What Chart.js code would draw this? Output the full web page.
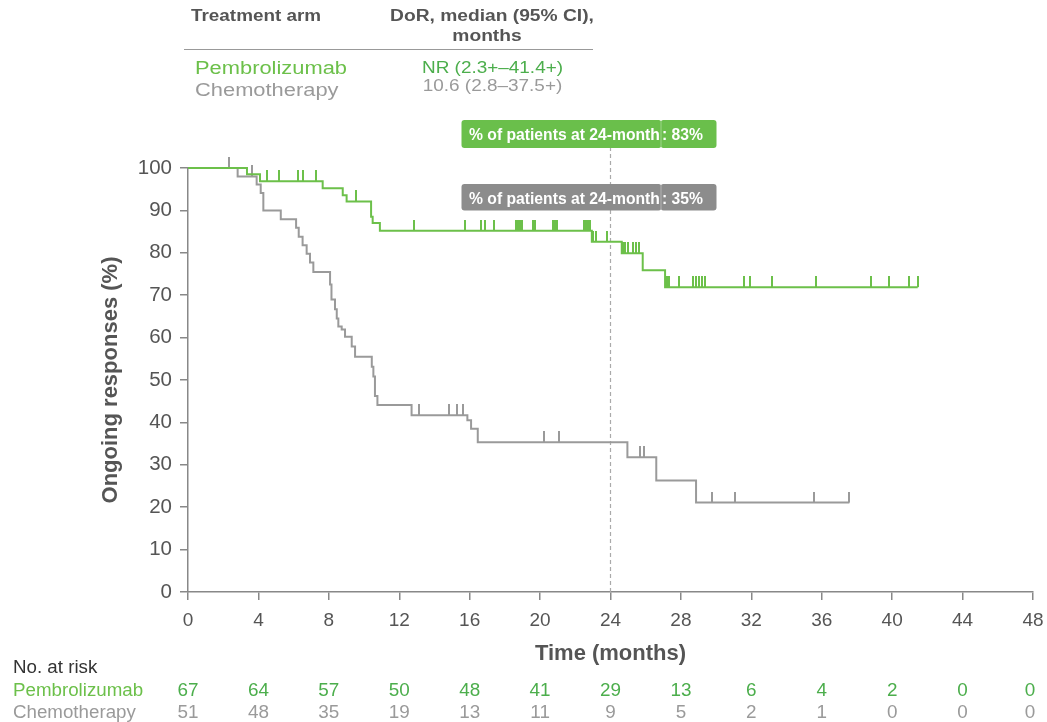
<!DOCTYPE html>
<html>
<head>
<meta charset="utf-8">
<script src="https://cdn.jsdelivr.net/npm/chart.js@4.4.1/dist/chart.umd.min.js"></script>
<style>
  html, body { margin: 0; padding: 0; background: #ffffff; }
  #wrap { width: 1047px; height: 722px; position: relative; }
</style>
</head>
<body>
<div id="wrap"><canvas id="c" width="1047" height="722"></canvas></div>
<script>
// ---------------- data ----------------
const pembroTimes = [0, 3.35, 4.09, 7.65, 8.79, 9.01, 10.40, 10.49, 10.90, 22.94, 24.64, 25.83, 27.10, 41.45];
const pembroSurv  = [100, 98.5, 96.9, 95.2, 93.6, 92.1, 88.5, 87.0, 85.2, 82.6, 79.9, 75.9, 71.9, 71.9];
const pembroCensor = [4.50, 5.19, 6.27, 6.51, 7.27, 9.55, 12.86, 15.74, 16.65, 16.88, 17.39, 18.64, 18.75, 18.86, 18.96,
  19.58, 19.70, 20.72, 20.85, 20.98, 22.50, 22.62, 22.74, 22.84, 23.00, 23.15, 23.80, 24.70, 24.85, 25.00, 25.30, 25.45,
  25.60, 27.20, 27.35, 27.90, 28.70, 28.88, 29.05, 29.20, 29.35, 31.60, 31.90, 33.20, 35.70, 38.80, 39.80, 40.97, 41.45];

const chemoTimes = [0, 2.82, 3.90, 4.13, 4.28, 5.27, 6.14, 6.29, 6.51, 6.74, 6.93, 7.12, 8.07, 8.15, 8.35, 8.45, 8.54,
  8.73, 8.92, 9.30, 9.49, 10.44, 10.53, 10.62, 10.76, 12.70, 15.87, 16.08, 16.46, 24.96, 26.60, 28.86, 37.57];
const chemoSurv  = [100, 98.0, 96.1, 94.1, 90.0, 87.9, 85.9, 83.8, 81.8, 79.8, 77.7, 75.5, 72.5, 69.0, 66.7, 64.5, 62.6,
  61.9, 60.2, 57.9, 55.5, 53.1, 50.8, 46.2, 44.1, 41.7, 40.5, 38.5, 35.3, 31.8, 26.3, 21.1, 21.1];
const chemoCensor = [2.35, 3.65, 13.10, 14.80, 15.27, 15.60, 20.20, 21.05, 25.65, 25.90, 29.75, 31.10, 35.57, 37.57];

const xTicks = [0, 4, 8, 12, 16, 20, 24, 28, 32, 36, 40, 44, 48];
const yTicks = [0, 10, 20, 30, 40, 50, 60, 70, 80, 90, 100];
const riskTimes = [0, 4, 8, 12, 16, 20, 24, 28, 32, 36, 40, 44, 48];
const pembroRisk = [67, 64, 57, 50, 48, 41, 29, 13, 6, 4, 2, 0, 0];
const chemoRisk  = [51, 48, 35, 19, 13, 11, 9, 5, 2, 1, 0, 0, 0];

const landmarkMonth = 24;
const pembroLandmark = 83;
const chemoLandmark = 35;
const landmarkLabel = '% of patients at 24-month';

// ---------------- style ----------------
const GREEN = '#6cc04a';
const GREEN_DARK = '#4cae4c';
const GRAY = '#9a9a9a';
const BOX_GREEN = '#6abf4b';
const BOX_GRAY = '#8c8c8c';
const TXT = '#555555';
const FONT = "'Liberation Sans', Arial, Helvetica, sans-serif";
Chart.defaults.font.family = FONT;

function toPoints(ts, vs) { return ts.map((t, i) => ({ x: t, y: vs[i] })); }
function kmAt(ts, vs, t) {
  let v = vs[0];
  for (let i = 0; i < ts.length; i++) { if (ts[i] <= t) v = vs[i]; }
  return v;
}
function censorPoints(cs, ts, vs) { return cs.map(t => ({ x: t, y: kmAt(ts, vs, t) })); }

function tickImage(color) {
  const c = document.createElement('canvas');
  c.width = 2; c.height = 22;
  const g = c.getContext('2d');
  g.fillStyle = color;
  g.fillRect(0, 0, 2, 11);
  return c;
}

function drawText(ctx, text, x, y, font, color, align, sx) {
  ctx.save();
  ctx.font = font;
  ctx.fillStyle = color;
  ctx.textAlign = align || 'left';
  ctx.textBaseline = 'alphabetic';
  ctx.translate(x, y);
  ctx.scale(sx || 1, 1);
  ctx.fillText(text, 0, 0);
  ctx.restore();
}

function roundRect(ctx, x, y, w, h, r, color) {
  ctx.save();
  ctx.fillStyle = color;
  ctx.beginPath();
  ctx.moveTo(x + r, y);
  ctx.lineTo(x + w - r, y);
  ctx.quadraticCurveTo(x + w, y, x + w, y + r);
  ctx.lineTo(x + w, y + h - r);
  ctx.quadraticCurveTo(x + w, y + h, x + w - r, y + h);
  ctx.lineTo(x + r, y + h);
  ctx.quadraticCurveTo(x, y + h, x, y + h - r);
  ctx.lineTo(x, y + r);
  ctx.quadraticCurveTo(x, y, x + r, y);
  ctx.closePath();
  ctx.fill();
  ctx.restore();
}

const extras = {
  id: 'extras',
  afterDraw(chart) {
    const ctx = chart.ctx;
    const xs = chart.scales.x;
    // header table
    drawText(ctx, 'Treatment arm', 191, 20.5, 'bold 16px ' + FONT, TXT, 'left', 1.18);
    drawText(ctx, 'DoR, median (95% CI),', 492, 20.5, 'bold 16px ' + FONT, TXT, 'center', 1.2);
    drawText(ctx, 'months', 487, 40.5, 'bold 16px ' + FONT, TXT, 'center', 1.2);
    ctx.save();
    ctx.strokeStyle = '#999999';
    ctx.lineWidth = 1;
    ctx.beginPath(); ctx.moveTo(184, 49.5); ctx.lineTo(593, 49.5); ctx.stroke();
    ctx.restore();
    drawText(ctx, 'Pembrolizumab', 195, 74, '17.5px ' + FONT, GREEN, 'left', 1.25);
    drawText(ctx, 'Chemotherapy', 195, 95.5, '17.5px ' + FONT, GRAY, 'left', 1.25);
    drawText(ctx, 'NR (2.3+\u201341.4+)', 492.5, 73.3, '16.2px ' + FONT, GREEN_DARK, 'center', 1.17);
    drawText(ctx, '10.6 (2.8\u201337.5+)', 492.5, 90.7, '16.2px ' + FONT, GRAY, 'center', 1.17);

    // landmark boxes
    const px = xs.getPixelForValue(landmarkMonth);
    const bl = px - 149, bs = px + 50, br = px + 106;
    const boxes = [
      { top: 120, h: 28, color: BOX_GREEN, val: pembroLandmark },
      { top: 184, h: 26.5, color: BOX_GRAY, val: chemoLandmark }
    ];
    boxes.forEach(b => {
      roundRect(ctx, bl, b.top, bs - bl + 1, b.h, 3, b.color);
      roundRect(ctx, bs, b.top, br - bs, b.h, 3, b.color);
      ctx.save();
      ctx.strokeStyle = 'rgba(255,255,255,0.35)';
      ctx.lineWidth = 1;
      ctx.beginPath(); ctx.moveTo(bs + 0.5, b.top); ctx.lineTo(bs + 0.5, b.top + b.h); ctx.stroke();
      ctx.restore();
      drawText(ctx, landmarkLabel, bl + 7.5, b.top + 20, 'bold 15.7px ' + FONT, '#ffffff', 'left', 1);
      drawText(ctx, ': ' + b.val + '%', bs + 1.5, b.top + 20, 'bold 15.7px ' + FONT, '#ffffff', 'left', 1);
    });

    // number at risk table
    drawText(ctx, 'No. at risk', 13, 673.3, '17.5px ' + FONT, '#333333', 'left', 1.07);
    drawText(ctx, 'Pembrolizumab', 13, 696, '17.5px ' + FONT, GREEN, 'left', 1.07);
    drawText(ctx, 'Chemotherapy', 13, 718.3, '17.5px ' + FONT, GRAY, 'left', 1.07);
    riskTimes.forEach((t, i) => {
      const x = Math.min(Math.max(xs.getPixelForValue(t), 182), 1030);
      drawText(ctx, String(pembroRisk[i]), x, 696, '18px ' + FONT, GREEN_DARK, 'center', 1.05);
      drawText(ctx, String(chemoRisk[i]), x, 718.3, '18px ' + FONT, GRAY, 'center', 1.05);
    });
  }
};

new Chart(document.getElementById('c'), {
  type: 'line',
  data: {
    datasets: [
      {
        label: 'Pembrolizumab',
        data: toPoints(pembroTimes, pembroSurv),
        stepped: true, borderColor: GREEN, borderWidth: 2, pointRadius: 0, fill: false, clip: false
      },
      {
        label: 'Chemotherapy',
        data: toPoints(chemoTimes, chemoSurv),
        stepped: true, borderColor: GRAY, borderWidth: 2, pointRadius: 0, fill: false, clip: false
      },
      {
        label: 'Pembrolizumab censored',
        data: censorPoints(pembroCensor, pembroTimes, pembroSurv),
        showLine: false, pointStyle: tickImage(GREEN), pointRadius: 3, clip: false
      },
      {
        label: 'Chemotherapy censored',
        data: censorPoints(chemoCensor, chemoTimes, chemoSurv),
        showLine: false, pointStyle: tickImage(GRAY), pointRadius: 3, clip: false
      },
      {
        label: '24-month landmark',
        data: [{ x: landmarkMonth, y: 0 }, { x: landmarkMonth, y: 105 }],
        borderColor: '#aaaaaa', borderWidth: 1.2, borderDash: [4, 3], pointRadius: 0, fill: false, clip: false
      }
    ]
  },
  options: {
    responsive: false,
    animation: false,
    events: [],
    layout: { padding: { left: 0, right: 14, top: 168, bottom: 0 } },
    plugins: { legend: { display: false }, tooltip: { enabled: false } },
    scales: {
      x: {
        type: 'linear', min: 0, max: 48,
        afterBuildTicks(s) { s.ticks = xTicks.map(v => ({ value: v })); },
        ticks: { color: TXT, font: { size: 19 }, padding: 9, autoSkip: false, maxRotation: 0 },
        grid: { drawOnChartArea: false, drawTicks: true, tickLength: 8, color: '#888888', lineWidth: 1.5 },
        border: { display: true, color: '#888888', width: 1.5 },
        title: { display: true, text: 'Time (months)', color: TXT, font: { size: 22, weight: 'bold' }, padding: { top: 0, bottom: 55 } },
        afterFit(s) { s.height = 130; s.paddingRight = 10; s.paddingLeft = 6; }
      },
      y: {
        type: 'linear', min: 0, max: 100,
        afterBuildTicks(s) { s.ticks = yTicks.map(v => ({ value: v })); },
        ticks: { color: TXT, font: { size: 20.5 }, padding: 8 },
        grid: { drawOnChartArea: false, drawTicks: true, tickLength: 8, color: '#888888', lineWidth: 1.5 },
        border: { display: true, color: '#888888', width: 1.5 },
        title: { display: true, text: 'Ongoing responses (%)', color: TXT, font: { size: 22, weight: 'bold' }, padding: { top: 98, bottom: 0 } },
        afterFit(s) { s.width = 188; }
      }
    }
  },
  plugins: [extras]
});
</script>
</body>
</html>
